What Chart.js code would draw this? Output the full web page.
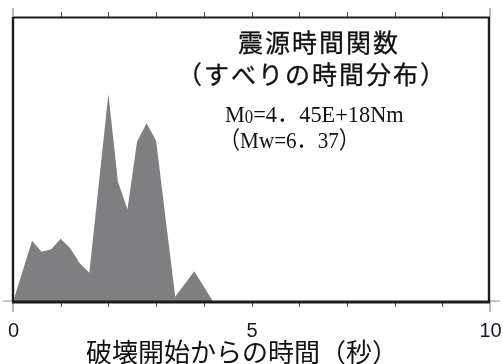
<!DOCTYPE html>
<html lang="ja">
<head>
<meta charset="utf-8">
<title>震源時間関数</title>
<script src="https://cdn.jsdelivr.net/npm/chart.js@4"></script>
<style>
  html, body { margin: 0; padding: 0; background: #ffffff; }
  #wrap { width: 503px; height: 364px; }
</style>
</head>
<body>
<div id="wrap"><canvas id="stf" width="503" height="364"></canvas></div>
<script>
// Source time function (moment rate, ×10^17 Nm/s) against time since rupture start (s)
const timeSec    = [0, 0.4, 0.6, 0.8, 1.0, 1.2, 1.4, 1.6, 2.0, 2.2, 2.4, 2.6, 2.8, 3.0, 3.4, 3.8, 4.2];
const momentRate = [0, 8.6, 7.06, 7.40, 8.88, 7.54, 5.43, 4.11, 29.19, 16.88, 13.01, 22.5, 25.08, 22.64, 0.74, 4.31, 0];

// Axis settings
const xRange = [0, 10];
const yRange = [0, 40];
const xMajorTicks = [0, 5, 10];
const xMinorStep = 1;

// Texts
const titleLines = ['震源時間関数', '（すべりの時間分布）'];
const xAxisTitle = '破壊開始からの時間（秒）';
const momentText = { head: 'M', sub: '0', tail: '=4．45E+18Nm' };
const magnitudeText = '（Mw=6．37）';

const SANS = '"Liberation Sans", Arial, sans-serif';
const CJK = '"Noto Sans CJK JP", "Noto Sans CJK SC", sans-serif';
const SERIF = '"Liberation Serif", "Noto Sans CJK JP", serif';

// condensed serif text, drawn from a left anchor
function drawCondensed(ctx, text, x, y, sx) {
  ctx.save();
  ctx.translate(x, y);
  ctx.scale(sx, 1);
  ctx.fillText(text, 0, 0);
  const w = ctx.measureText(text).width * sx;
  ctx.restore();
  return w;
}

const framePlugin = {
  id: 'stfFrame',
  afterDraw(chart) {
    const ctx = chart.ctx;
    const xs = chart.scales.x;
    const ys = chart.scales.y;
    const L = xs.getPixelForValue(xRange[0]);
    const R = xs.getPixelForValue(xRange[1]);
    const T = ys.getPixelForValue(yRange[1]);
    const B = ys.getPixelForValue(yRange[0]);

    ctx.save();
    ctx.lineCap = 'butt';

    // minor ticks, outside the frame on top and bottom
    ctx.strokeStyle = '#4a4a4a';
    ctx.lineWidth = 1;
    for (let t = xRange[0] + xMinorStep; t < xRange[1] - 1e-9; t += xMinorStep) {
      const px = Math.round(xs.getPixelForValue(t)) + 0.5;
      ctx.beginPath();
      ctx.moveTo(px, T - 5); ctx.lineTo(px, T);
      ctx.moveTo(px, B); ctx.lineTo(px, B + 5);
      ctx.stroke();
    }

    // longer corner ticks
    ctx.strokeStyle = '#8a8a8a';
    ctx.lineWidth = 1.2;
    [xRange[0], xRange[1]].forEach(t => {
      const px = xs.getPixelForValue(t);
      ctx.beginPath();
      ctx.moveTo(px, T - 9); ctx.lineTo(px, T);
      ctx.moveTo(px, B); ctx.lineTo(px, B + 10);
      ctx.stroke();
    });
    const y0 = ys.getPixelForValue(0) - 1;
    ctx.beginPath();
    ctx.moveTo(L - 10, y0); ctx.lineTo(L, y0);
    ctx.moveTo(R, y0); ctx.lineTo(R + 10, y0);
    ctx.stroke();

    // frame
    ctx.strokeStyle = '#1c1c1c';
    ctx.lineWidth = 1.8;
    ctx.beginPath(); ctx.moveTo(L, T + 0.5); ctx.lineTo(R, T + 0.5); ctx.stroke();
    ctx.lineWidth = 2.4;
    ctx.beginPath(); ctx.moveTo(L, T); ctx.lineTo(L, B); ctx.stroke();
    ctx.beginPath(); ctx.moveTo(R - 1, T); ctx.lineTo(R - 1, B); ctx.stroke();
    ctx.lineWidth = 3;
    ctx.beginPath(); ctx.moveTo(L - 1, B); ctx.lineTo(R, B); ctx.stroke();

    // tick labels
    ctx.fillStyle = '#1a1a24';
    ctx.font = '20px ' + SANS;
    ctx.textAlign = 'center';
    ctx.textBaseline = 'alphabetic';
    xMajorTicks.forEach(t => {
      ctx.fillText(String(t), xs.getPixelForValue(t) + 0.5, B + 35);
    });

    // axis title
    ctx.fillStyle = '#111111';
    ctx.strokeStyle = '#111111';
    ctx.font = '26px ' + CJK;
    ctx.textBaseline = 'middle';
    ctx.fillText(xAxisTitle, 242, B + 50);

    // title block
    ctx.font = '25px ' + CJK;
    ctx.letterSpacing = '2px';
    ctx.lineWidth = 0.3;
    titleLines.forEach((s, i) => {
      const cx = i === 0 ? 319 : 312;
      const cy = i === 0 ? 42 : 74;
      ctx.fillText(s, cx, cy);
      ctx.strokeText(s, cx, cy);
    });
    ctx.letterSpacing = '0px';

    // seismic moment and magnitude
    ctx.textAlign = 'left';
    ctx.textBaseline = 'alphabetic';
    let x = 225;
    const base1 = 122;
    ctx.font = '24px ' + SERIF;
    x += drawCondensed(ctx, momentText.head, x, base1, 0.93);
    ctx.font = '18px ' + SERIF;
    x += drawCondensed(ctx, momentText.sub, x, base1 + 1, 0.93);
    ctx.font = '24px ' + SERIF;
    drawCondensed(ctx, momentText.tail, x, base1, 0.93);
    drawCondensed(ctx, magnitudeText, 219, 148, 0.88);

    ctx.restore();
  }
};

new Chart(document.getElementById('stf'), {
  type: 'line',
  data: {
    datasets: [{
      data: timeSec.map((t, i) => ({ x: t, y: momentRate[i] })),
      fill: 'origin',
      backgroundColor: '#7f7f81',
      borderWidth: 0,
      borderColor: 'rgba(0,0,0,0)',
      pointRadius: 0,
      tension: 0
    }]
  },
  options: {
    responsive: false,
    devicePixelRatio: 1,
    animation: false,
    layout: { padding: { left: 13, right: 13, top: 17, bottom: 62 } },
    plugins: { legend: { display: false }, tooltip: { enabled: false } },
    scales: {
      x: { type: 'linear', min: xRange[0], max: xRange[1], display: false },
      y: { type: 'linear', min: yRange[0], max: yRange[1], display: false }
    }
  },
  plugins: [framePlugin]
});
</script>
</body>
</html>
